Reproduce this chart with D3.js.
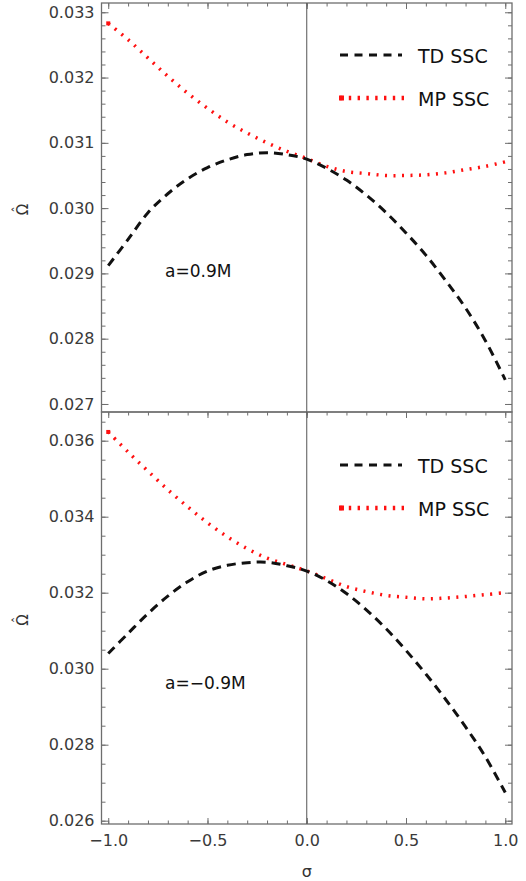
<!DOCTYPE html>
<html>
<head>
<meta charset="utf-8">
<script src="https://cdn.jsdelivr.net/npm/d3@7"></script>
<style>
    body { margin: 0; background: #fff; }
    text { font-family: "DejaVu Sans", sans-serif; }
</style>
</head>
<body>
<svg id="chart" width="526" height="881"></svg>
<script>
// sigma grid
var sigma = [-1.0, -0.9, -0.8, -0.7, -0.6, -0.5, -0.4, -0.3, -0.2, -0.1, 0.0,
    0.1, 0.2, 0.3, 0.4, 0.5, 0.6, 0.7, 0.8, 0.9, 1.0];

// a = 0.9M
var tdUpper = [0.02912, 0.02952, 0.02993, 0.03022, 0.03045, 0.03062, 0.03074, 0.03082, 0.03085, 0.03082, 0.03075,
    0.03061, 0.03043, 0.03020, 0.02993, 0.02962, 0.02928, 0.02889, 0.02847, 0.02797, 0.02737];
var mpUpper = [0.03283, 0.03258, 0.03230, 0.03202, 0.03176, 0.03153, 0.03132, 0.03115, 0.03100, 0.03087, 0.03076,
    0.03064, 0.03056, 0.03053, 0.03050, 0.03050, 0.03051, 0.03054, 0.03059, 0.03064, 0.03071];

// a = -0.9M
var tdLower = [0.03040, 0.03093, 0.03145, 0.03191, 0.03229, 0.03257, 0.03272, 0.03279, 0.03280, 0.03271, 0.03257,
    0.03232, 0.03198, 0.03155, 0.03105, 0.03048, 0.02986, 0.02919, 0.02847, 0.02768, 0.02674];
var mpLower = [0.03623, 0.03570, 0.03520, 0.03471, 0.03426, 0.03384, 0.03347, 0.03316, 0.03291, 0.03274, 0.03257,
    0.03237, 0.03216, 0.03203, 0.03193, 0.03188, 0.03184, 0.03186, 0.03190, 0.03195, 0.03200];

var xTicks = [-1.0, -0.5, 0.0, 0.5, 1.0];
var upperTicks = [0.027, 0.028, 0.029, 0.030, 0.031, 0.032, 0.033];
var lowerTicks = [0.026, 0.028, 0.030, 0.032, 0.034, 0.036];
var seriesNames = ["TD SSC", "MP SSC"];

var svg = d3.select("#chart");
var left = 101.5, right = 512;
var frameColor = "#6e6e6e";

var x = d3.scaleLinear().domain([-1.034, 1.034]).range([left, right]);

svg.append("rect").attr("width", 526).attr("height", 881).attr("fill", "#fff");

function drawPanel(top, bottom, yDomain, majors, minorStep, td, mp, label, labelY, legendY, showX) {
    var y = d3.scaleLinear().domain(yDomain).range([bottom, top]);
    var g = svg.append("g");

    var minors = d3.range(yDomain[0], yDomain[1], minorStep).map(function (v) {
        return Math.ceil(v / minorStep - 1e-6) * minorStep;
    }).filter(function (v) { return v > yDomain[0] && v < yDomain[1]; });
    var xMinors = d3.range(-10, 11).map(function (i) { return i / 10; });

    // minor ticks
    g.append("g").attr("transform", "translate(" + left + ",0)")
        .call(d3.axisLeft(y).tickValues(minors).tickSize(-4).tickFormat(""));
    g.append("g").attr("transform", "translate(" + right + ",0)")
        .call(d3.axisRight(y).tickValues(minors).tickSize(-4).tickFormat(""));
    g.append("g").attr("transform", "translate(0," + top + ")")
        .call(d3.axisTop(x).tickValues(xMinors).tickSize(-3.5).tickFormat(""));

    // major ticks
    g.append("g").attr("transform", "translate(" + left + ",0)")
        .call(d3.axisLeft(y).tickValues(majors).tickSize(-7).tickPadding(7).tickFormat(d3.format(".3f")));
    g.append("g").attr("transform", "translate(" + right + ",0)")
        .call(d3.axisRight(y).tickValues(majors).tickSize(-7).tickFormat(""));
    g.append("g").attr("transform", "translate(0," + top + ")")
        .call(d3.axisTop(x).tickValues(xTicks).tickSize(-6).tickFormat(""));

    if (showX) {
        g.append("g").attr("transform", "translate(0," + bottom + ")")
            .call(d3.axisBottom(x).tickValues(xMinors).tickSize(-3.5).tickFormat(""));
        g.append("g").attr("transform", "translate(0," + bottom + ")")
            .call(d3.axisBottom(x).tickValues(xTicks).tickSize(-6).tickPadding(11).tickFormat(d3.format(".1f")));
    }

    g.selectAll(".domain").remove();
    g.selectAll(".tick line").attr("stroke", frameColor);
    g.selectAll(".tick text").attr("fill", "#3a3a3a").style("font-size", "16px")
        .style("font-family", "'DejaVu Sans', sans-serif");

    // frame
    g.append("rect")
        .attr("x", left).attr("y", top)
        .attr("width", right - left).attr("height", bottom - top)
        .attr("fill", "none").attr("stroke", frameColor).attr("stroke-width", 1.3);

    // sigma = 0 line
    g.append("line")
        .attr("x1", x(0)).attr("x2", x(0))
        .attr("y1", top).attr("y2", bottom)
        .attr("stroke", "#555").attr("stroke-width", 1);

    var line = d3.line()
        .x(function (d, i) { return x(sigma[i]); })
        .y(function (d) { return y(d); })
        .curve(d3.curveCatmullRom.alpha(0.5));

    g.append("path").datum(mp)
        .attr("d", line)
        .attr("fill", "none").attr("stroke", "#ff1010")
        .attr("stroke-width", 3.5).attr("stroke-dasharray", "2,6.5");

    // bigger dot where the dotted curve starts
    g.append("rect")
        .attr("x", x(sigma[0]) - 2).attr("y", y(mp[0]) - 2)
        .attr("width", 4).attr("height", 4)
        .attr("fill", "#ff1010");

    g.append("path").datum(td)
        .attr("d", line)
        .attr("fill", "none").attr("stroke", "#111")
        .attr("stroke-width", 3).attr("stroke-dasharray", "9,6");

    // legend
    var legend = g.append("g");
    legend.append("line")
        .attr("x1", 340).attr("x2", 402).attr("y1", legendY).attr("y2", legendY)
        .attr("stroke", "#111").attr("stroke-width", 3).attr("stroke-dasharray", "8,6.5");
    legend.append("line")
        .attr("x1", 340).attr("x2", 408).attr("y1", legendY + 43).attr("y2", legendY + 43)
        .attr("stroke", "#ff1010").attr("stroke-width", 4.5).attr("stroke-dasharray", "2.4,6.4");
    legend.append("rect")
        .attr("x", 339).attr("y", legendY + 43 - 2.5)
        .attr("width", 5).attr("height", 5)
        .attr("fill", "#ff1010");
    legend.selectAll("text")
        .data(seriesNames)
        .enter().append("text")
        .attr("x", 418)
        .attr("y", function (d, i) { return legendY + 8 + i * 43; })
        .attr("fill", "#111")
        .style("font-size", "19px")
        .text(function (d) { return d; });

    g.append("text")
        .attr("x", 165).attr("y", labelY)
        .attr("fill", "#111")
        .style("font-size", "17px")
        .text(label);

    // y title: Omega with a hat
    var title = g.append("g")
        .attr("transform", "translate(28," + ((top + bottom) / 2 + 2) + ") rotate(-90)");
    title.append("text")
        .attr("text-anchor", "middle")
        .attr("fill", "#333")
        .style("font-size", "15px")
        .text("\u03A9");
    title.append("text")
        .attr("y", -6)
        .attr("text-anchor", "middle")
        .attr("fill", "#333")
        .style("font-size", "13px")
        .text("\u02C6");
}

drawPanel(3, 412, [0.026877, 0.033142], upperTicks, 0.0002, tdUpper, mpUpper, "a=0.9M", 277, 55, false);
drawPanel(412, 824, [0.025913, 0.036755], lowerTicks, 0.0005, tdLower, mpLower, "a=\u22120.9M", 689, 465, true);

svg.append("text")
    .attr("x", x(0)).attr("y", 877)
    .attr("text-anchor", "middle")
    .attr("fill", "#333")
    .style("font-size", "16px")
    .text("\u03C3");
</script>
</body>
</html>
